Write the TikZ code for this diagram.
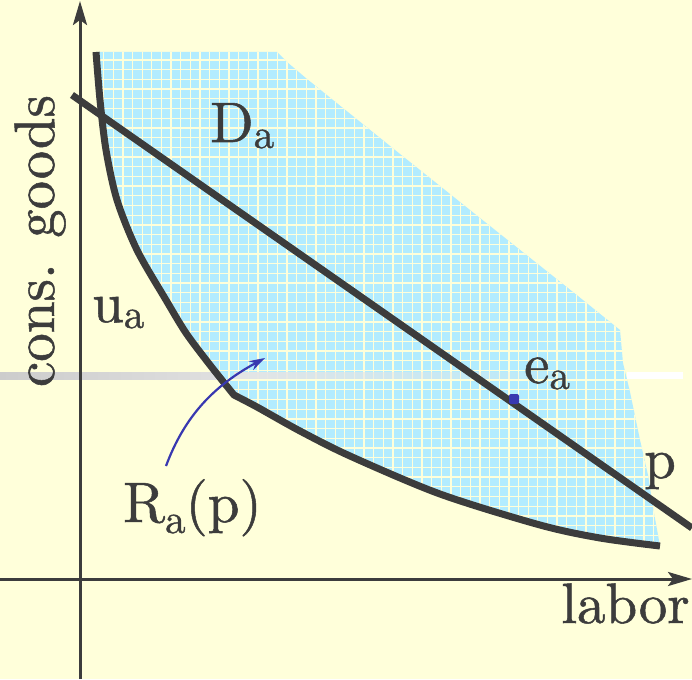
\documentclass[tikz,border=0pt]{standalone}
\usepackage{fontspec}
\newfontfamily\timesf{lmroman10-regular.otf}[FakeBold=0.9]
\usetikzlibrary{arrows.meta,fadings}
\definecolor{bg}{RGB}{255,255,218}
\definecolor{sky}{RGB}{178,236,255}
\definecolor{ink}{RGB}{60,60,60}
\definecolor{arrowblue}{RGB}{56,56,176}
\newcommand{\subsc}[2][-6pt]{\raisebox{#1}{\fontsize{41}{41}\selectfont #2}}
\begin{document}
\begin{tikzpicture}[x=1pt,y=-1pt,
  lbl/.style={text=ink, inner sep=0pt, font=\timesf\fontsize{57}{57}\selectfont, anchor=base west},
  bigcurve/.style={draw=ink, line width=7pt, line join=round},
  axisline/.style={draw=ink, line width=3pt, -{Stealth[length=24pt,width=14pt,inset=5pt]}},
  gridc/.style={draw=bg, line width=1.3pt}]
\fill[bg] (0,0) rectangle (692,679);
\useasboundingbox (0,0) rectangle (692,679);
% faint horizontal band
\shade[left color=gray!40, right color=gray!24] (0,372) rectangle (234,379);
% blue region with grid
\begin{scope}
\clip plot[smooth] coordinates {(96,52) (100,100) (106,150) (117,200) (137,250) (166,300) (186,333) (210,365) (234,395)}
  -- plot[smooth] coordinates {(234,395) (257,407) (300,431) (350,456) (440,494) (540,525) (600,538) (660,546)}
  -- (700,546) -- (700,0) -- (96,0) -- cycle;
\begin{scope}
\clip (96,52) -- (277,52) -- (287,62) -- (307,79) -- (400,154) -- (480,218) -- (573,292) -- (620,330) -- (623,363) -- (630,392) -- (640,440) -- (648,475) -- (654,513) -- (660,546) -- (660,600) -- (60,600) -- (60,52) -- cycle;
\fill[sky] (60,40) rectangle (692,600);
\foreach \k in {-15,...,48} \draw[gridc] ({229+9.65*\k},40) -- ({229+9.65*\k},600);
\foreach \k in {-1,...,56} \draw[gridc] (60,{60+9.7*\k}) -- (692,{60+9.7*\k});
\end{scope}
\end{scope}
\fill[gray!20, path fading=east] (234,372) rectangle (600,379);
\fill[white] (627,372) rectangle (683,379);
% axes
\coordinate (ybot) at (80,679);
\coordinate (ytop) at (80,1);
\coordinate (xleft) at (0,579);
\coordinate (xright) at (692,579);
\draw[axisline] (ybot) -- (ytop);
\draw[axisline] (xleft) -- (xright);
% indifference curve u_a
\draw[bigcurve] plot[smooth] coordinates {(96,52) (100,100) (106,150) (117,200) (137,250) (166,300) (186,333) (210,365) (234,395)}
  -- plot[smooth] coordinates {(234,395) (257,407) (300,431) (350,456) (440,494) (540,525) (600,538) (660,546)};
% budget line p
\coordinate (pstart) at (72,95);
\coordinate (pend) at (692,528);
\draw[draw=ink, line width=7pt] (pstart) -- (pend);
% endowment point
\node[fill=arrowblue, minimum size=10pt, inner sep=0pt, rounded corners=2pt] (ea) at (514,399) {};
% arrow to R_a(p)
\coordinate (arrs) at (166,466);
\coordinate (arre) at (265,358);
\draw[arrowblue, line width=2.2pt, -{Stealth[open,length=16pt,width=10pt]}] (arrs) .. controls (185,415) and (215,385) .. (arre);
% labels
\node[lbl] (Da) at (210,142) {D\subsc{a}};
\node[lbl] (ua) at (92,322) {u\subsc{a}};
\node[lbl] (Ra) at (123,522) {R\subsc[-11pt]{a}(p)};
\node[lbl] (ealbl) at (524,383) {e\subsc{a}};
\node[lbl] (plbl) at (644,478) {p};
\node[lbl] (labor) at (561,623) {labor};
\node[lbl, rotate=90, anchor=base] (cg) at (54,241) {cons. goods};
\end{tikzpicture}
\end{document}
